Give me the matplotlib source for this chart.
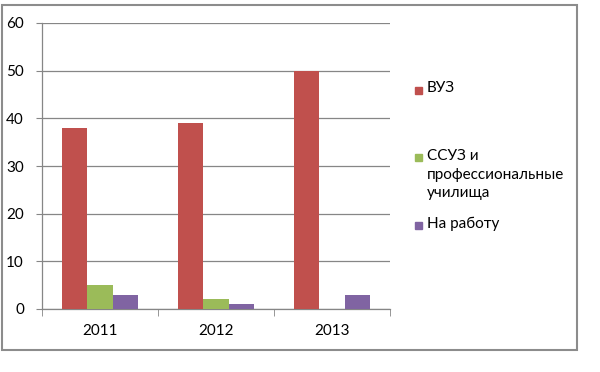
import numpy as np
from matplotlib import pyplot as plt
from matplotlib.patches import Rectangle

years = ['2011', '2012', '2013']
series = ['ВУЗ', 'ССУЗ и\nпрофессиональные\nучилища', 'На работу']
vuz = [38, 39, 50]
ssuz = [5, 2, 0]
work = [3, 1, 3]
colors = ['#C0504D', '#9BBB59', '#8064A2']

plt.rcParams['font.family'] = ['Lato', 'DejaVu Sans']
W, H = 600, 372
fig = plt.figure(figsize=(W / 100, H / 100), dpi=100)

def fx(px):
    return px / W

def fy(py):
    return 1 - py / H

# outer chart border
fig.patches.append(Rectangle((fx(2), fy(350)), fx(575), (348 - 3) / H, transform=fig.transFigure,
                             fill=False, edgecolor='#8c8c8c', lw=1.5))

ax = fig.add_axes([fx(42), fy(309), fx(348), 286 / H])
x = np.arange(len(years))
bw = 0.218
for i, vals in enumerate([vuz, ssuz, work]):
    ax.bar(x + (i - 1) * bw, vals, bw, color=colors[i], zorder=3)

ax.set_xlim(-0.5, 2.5)
ax.set_ylim(0, 60)
ax.set_yticks(range(0, 61, 10))
ax.set_xticks(x)
ax.set_xticklabels(years)
ax.set_xticks([-0.5, 0.5, 1.5, 2.5], minor=True)
ax.tick_params(axis='x', which='major', length=0, pad=11, labelsize=11)
ax.tick_params(axis='x', which='minor', length=5, color='#868686')
ax.tick_params(axis='y', length=4, color='#868686', pad=9, labelsize=11)
ax.grid(axis='y', color='#868686', lw=0.9, zorder=0)
for s in ['top', 'right']:
    ax.spines[s].set_visible(False)
for s in ['left', 'bottom']:
    ax.spines[s].set_color('#868686')
    ax.spines[s].set_linewidth(0.9)

# legend drawn by hand to get Excel-like layout
leg_y = [90, 158, 225]
for name, c, yc in zip(series, colors, leg_y):
    fig.patches.append(Rectangle((fx(415), fy(yc + 3.5)), fx(7), 7 / H, transform=fig.transFigure,
                                 color=c))
    fig.text(fx(427), fy(yc - 8.5), name, ha='left', va='top', fontsize=11, linespacing=1.4)

plt.savefig('out.png', dpi=100)
